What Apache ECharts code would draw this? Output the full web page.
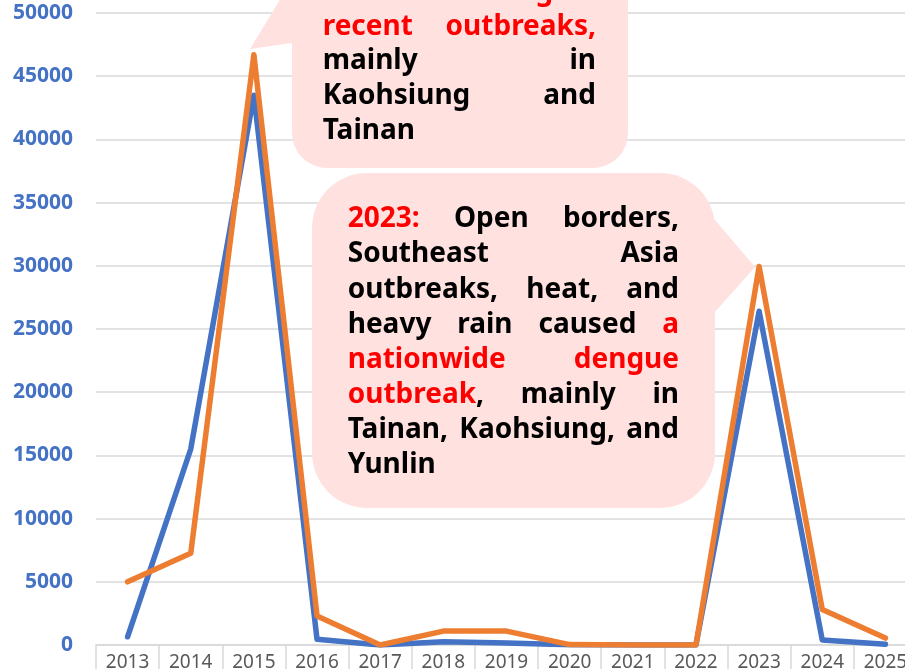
<!DOCTYPE html>
<html><head><meta charset="utf-8">
<script src="https://cdn.jsdelivr.net/npm/echarts@6/dist/echarts.min.js"></script>
<style>html,body{margin:0;padding:0;background:#fff;}#c{width:905px;height:669px;}</style>
</head><body><div id="c"></div>
<script>
// ---- data ----
const years = ['2013','2014','2015','2016','2017','2018','2019','2020','2021','2022','2023','2024','2025'];
const blueSeries   = [650, 15500, 43500, 450, 0, 250, 150, 20, 0, 0, 26400, 400, 50];
const orangeSeries = [5000, 7250, 46700, 2300, 0, 1100, 1100, 30, 0, 0, 29950, 2800, 550];
const yMin = 0, yMax = 50000, yStep = 5000;
// callout texts (*...* marks red text)
const note2015 = ['*2015: The largest', 'recent outbreaks,*', 'mainly in', 'Kaohsiung and', 'Tainan'];
const note2023 = ['*2023:* Open borders,', 'Southeast Asia', 'outbreaks, heat, and', 'heavy rain caused *a',
                  'nationwide dengue', 'outbreak*, mainly in', 'Tainan, Kaohsiung, and', 'Yunlin'];

// ---- styles ----
const BLUE = '#4472C4', ORANGE = '#ED7D31', GRID = '#D9D9D9', PINK = '#FFE2E0';
const NOTE_FONT = { size: 28, weight: 'bold', family: '"Noto Sans", sans-serif' };

const mctx = document.createElement('canvas').getContext('2d');
mctx.font = NOTE_FONT.weight + ' ' + NOTE_FONT.size + 'px ' + NOTE_FONT.family;
const tw = s => mctx.measureText(s).width;

function parseLines(lines) {
  let red = false;
  return lines.map(line => {
    const words = [];
    line.split(' ').forEach(tok => {
      const segs = [];
      let cur = '';
      for (const ch of tok) {
        if (ch === '*') { if (cur) segs.push([cur, red]); cur = ''; red = !red; }
        else cur += ch;
      }
      if (cur) segs.push([cur, red]);
      if (segs.length) words.push(segs);
    });
    return words;
  });
}

function noteText(lines, left, right, firstBaseline, lineGap) {
  const els = [];
  const parsed = parseLines(lines);
  const spaceW = tw(' ');
  parsed.forEach((words, li) => {
    const widths = words.map(w => w.reduce((a, s) => a + tw(s[0]), 0));
    const sum = widths.reduce((a, b) => a + b, 0);
    const last = li === parsed.length - 1;
    const gap = (!last && words.length > 1) ? (right - left - sum) / (words.length - 1) : spaceW;
    let x = left;
    const yMid = firstBaseline + li * lineGap - 9;
    words.forEach((w, wi) => {
      let sx = x;
      w.forEach(seg => {
        els.push({
          type: 'text', x: sx, y: yMid, z: 30,
          style: { text: seg[0], fill: seg[1] ? '#FF0000' : '#000000',
                   fontSize: NOTE_FONT.size, fontWeight: NOTE_FONT.weight, fontFamily: NOTE_FONT.family,
                   align: 'left', verticalAlign: 'middle' }
        });
        sx += tw(seg[0]);
      });
      x += widths[wi] + gap;
    });
  });
  return els;
}

const graphics = [
  // callout 2015
  { type: 'rect', z: 20, shape: { x: 292, y: -42, width: 336, height: 210, r: 35 }, style: { fill: PINK } },
  { type: 'polygon', z: 20, shape: { points: [[300, -20], [292, -20], [250, 49], [292, 43], [300, 43]] }, style: { fill: PINK } },
  // callout 2023
  { type: 'rect', z: 20, shape: { x: 312, y: 173, width: 403, height: 335, r: 55 }, style: { fill: PINK } },
  { type: 'polygon', z: 20, shape: { points: [[700, 220], [715, 220], [755, 267], [715, 312], [700, 312]] }, style: { fill: PINK } }
].concat(noteText(note2015, 322.7, 596, 0.9, 34.8))
 .concat(noteText(note2023, 347.7, 679, 228.4, 35.1));

const chart = echarts.init(document.getElementById('c'), null, { renderer: 'canvas' });
chart.setOption({
  animation: false,
  backgroundColor: '#ffffff',
  grid: { left: 96, top: 13, width: 821, height: 632, containLabel: false, outerBoundsMode: 'none' },
  xAxis: {
    type: 'category', data: years, boundaryGap: true,
    axisLine: { lineStyle: { color: GRID, width: 1.5 } },
    axisTick: { show: true, length: 30, lineStyle: { color: GRID, width: 1.5 } },
    axisLabel: { interval: 0, color: '#595959', fontSize: 19, fontFamily: 'Noto Sans', margin: 8 }
  },
  yAxis: {
    type: 'value', min: yMin, max: yMax, interval: yStep,
    axisLine: { show: false }, axisTick: { show: false },
    splitLine: { lineStyle: { color: GRID, width: 1.5 } },
    axisLabel: { color: BLUE, fontSize: 21, fontWeight: 'bold', fontFamily: 'Noto Sans', margin: 23,
                 formatter: v => String(v) }
  },
  series: [
    { type: 'line', data: blueSeries, symbol: 'none', z: 3,
      lineStyle: { color: BLUE, width: 5.5, cap: 'round', join: 'round' } },
    { type: 'line', data: orangeSeries, symbol: 'none', z: 4,
      lineStyle: { color: ORANGE, width: 5.5, cap: 'round', join: 'round' } }
  ],
  graphic: graphics
});
</script></body></html>
